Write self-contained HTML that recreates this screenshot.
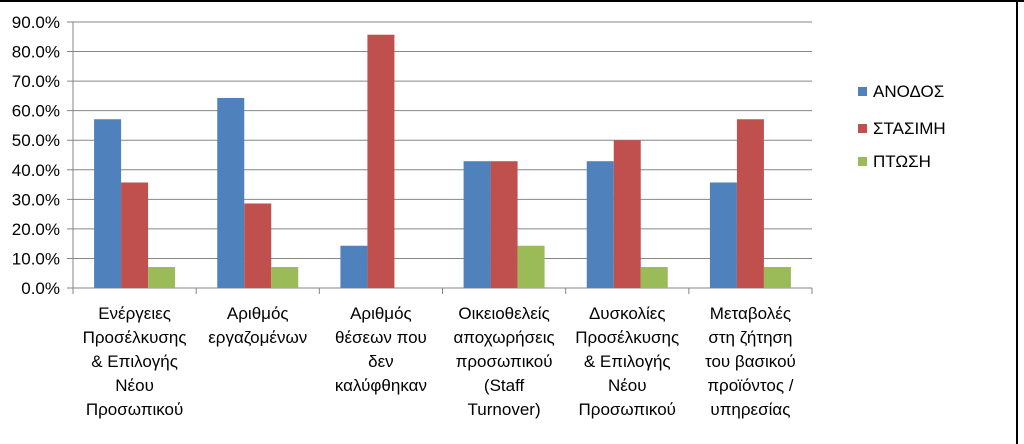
<!DOCTYPE html>
<html><head><meta charset="utf-8"><style>
body{margin:0;background:#fff;}
svg{display:block;font-family:"Liberation Sans","DejaVu Sans",sans-serif;}
</style></head><body>
<svg id="c" width="1024" height="444">
<rect x="0" y="0" width="1024" height="2" fill="#000"/>
<rect x="1016" y="0" width="2" height="444" fill="#000"/>
</svg>
<script>
const categories=[["Ενέργειες","Προσέλκυσης","& Επιλογής","Νέου","Προσωπικού"],["Αριθμός","εργαζομένων"],["Αριθμός","θέσεων που","δεν","καλύφθηκαν"],["Οικειοθελείς","αποχωρήσεις","προσωπικού","(Staff","Turnover)"],["Δυσκολίες","Προσέλκυσης","& Επιλογής","Νέου","Προσωπικού"],["Μεταβολές","στη ζήτηση","του βασικού","προϊόντος /","υπηρεσίας"]];
const seriesNames=["ΑΝΟΔΟΣ","ΣΤΑΣΙΜΗ","ΠΤΩΣΗ"];
const anodos=[57.1,64.3,14.3,42.9,42.9,35.7];
const stasimi=[35.7,28.6,85.7,42.9,50.0,57.1];
const ptosi=[7.1,7.1,0,14.3,7.1,7.1];
const ticks=[0,10,20,30,40,50,60,70,80,90];
const colors=["#4f81bd","#c0504d","#9bbb59"];
const NS="http://www.w3.org/2000/svg",svg=document.getElementById("c");
const x0=73,x1=812,y0=288,yTop=22,maxV=90;
const y=v=>y0-(v/maxV)*(y0-yTop);
const gw=(x1-x0)/categories.length;
function mk(t,a){const e=document.createElementNS(NS,t);for(const k in a)e.setAttribute(k,a[k]);svg.appendChild(e);return e;}
ticks.forEach(t=>{
 const l=mk("line",{x1:67,x2:x1,y1:y(t),y2:y(t),stroke:"#868686","stroke-width":1});
 
 
 const tx=mk("text",{x:60,y:y(t)+6,"text-anchor":"end","font-size":17,fill:"#000"});
 tx.textContent=t.toFixed(1)+"%";
 
 
});
const ax=mk("line",{x1:x0,x2:x0,y1:yTop,y2:y0,stroke:"#868686"});


for(let i=0;i<=categories.length;i++){
 const t=mk("line",{x1:x0+i*gw,x2:x0+i*gw,y1:y0,y2:y0+6,stroke:"#868686"});
 
 
}
const series=[anodos,stasimi,ptosi];
const bw=27;
categories.forEach((c,i)=>{
 const start=x0+i*gw+(gw-3*bw)/2;
 series.forEach((s,j)=>{
  if(s[i]<=0)return;
  const r=mk("rect",{x:start+j*bw,y:y(s[i]),width:bw,height:y0-y(s[i]),fill:colors[j]});
  
  
 });
 c.forEach((line,k)=>{
  const t=mk("text",{x:x0+i*gw+gw/2,y:319+k*24,"text-anchor":"middle","font-size":17,fill:"#000"});
  t.textContent=line;
  
  
 });
});
seriesNames.forEach((n,j)=>{
 const yy=[91,128,161][j];
 const r=mk("rect",{x:858,y:yy-4,width:9,height:9,fill:colors[j]});
 
 
 const t=mk("text",{x:873,y:yy+6,"font-size":17,fill:"#000"});
 t.textContent=n;
 
 
});
</script>
</body></html>
